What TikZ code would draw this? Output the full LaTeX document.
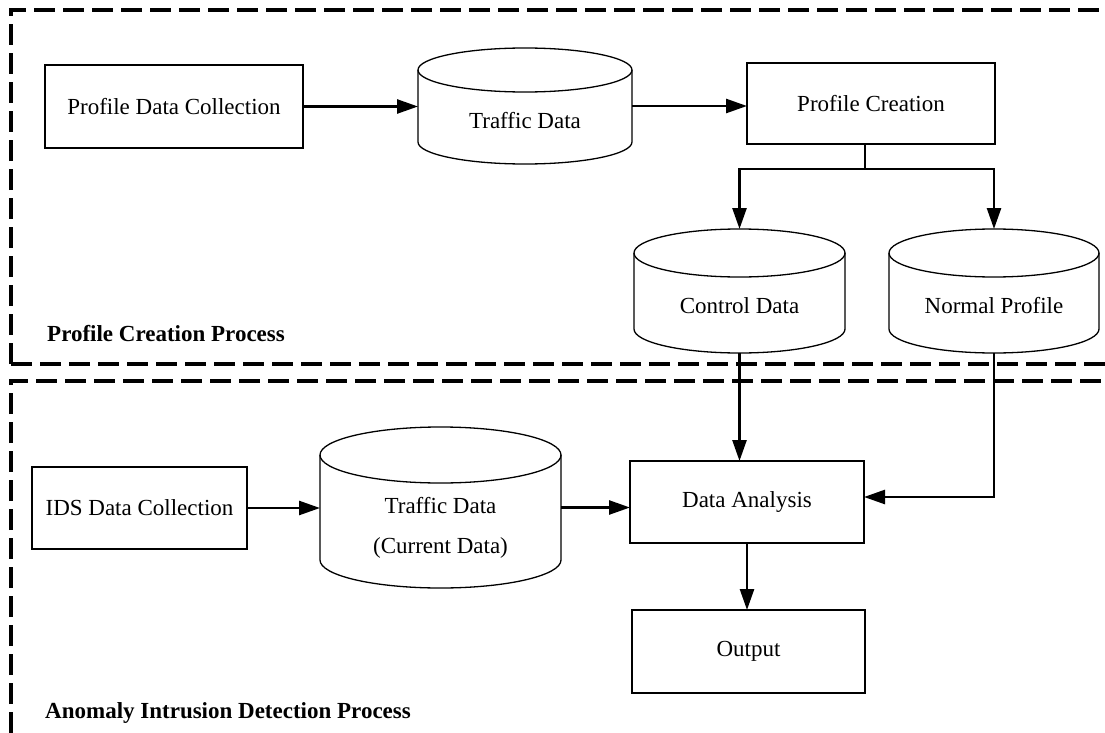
\documentclass[tikz,border=0pt]{standalone}
\usepackage{fontspec}
\setmainfont{Liberation Serif}
\usetikzlibrary{arrows.meta,calc}

% database drum drawn round an empty rectangular node: #1 name, #2 x radius, #3 y radius (pt)
\newcommand\drumshape[3]{%
  \draw[drumline] ($(#1.north)+(0pt,-#3pt)$) ellipse [x radius=#2pt, y radius=#3pt];
  \draw[drumline] ($(#1.north west)+(0pt,-#3pt)$) -- ($(#1.south west)+(0pt,#3pt)$)
     arc[start angle=180, end angle=360, x radius=#2pt, y radius=#3pt]
     -- ($(#1.north east)+(0pt,-#3pt)$);
}

\begin{document}
\begin{tikzpicture}[x=1pt,y=-1pt,
  every node/.style={font=\fontsize{23}{34}\selectfont},
  box/.style={draw, line width=1.3pt, inner sep=0pt, outer sep=0pt},
  drum/.style={inner sep=0pt, outer sep=0pt},
  drumline/.style={line width=1.3pt},
  drumtext/.style={yshift=-14.5pt},
  flow/.style={line width=2.6pt, -{Triangle[length=21pt,width=14pt]}},
  link/.style={line width=2.6pt},
  frame/.style={line width=3.1pt, dash pattern=on 21pt off 8pt},
  heading/.style={font=\bfseries\fontsize{23}{28}\selectfont, anchor=base west, inner sep=0pt}]
\useasboundingbox (0,0) rectangle (1105,733);

% process frames
\draw[frame] (11,364) -- (11,10) -- (1105,10);
\draw[frame] (11,364) -- (1105,364);
\draw[frame] (11,733) -- (11,381) -- (1105,381);

\node[heading] (hp) at (47,341) {Profile Creation Process};
\node[heading] (ha) at (45,718) {Anomaly Intrusion Detection Process};

% profile creation
\node[box, minimum width=258pt, minimum height=83pt] (pdc) at (174,106.5) {Profile Data Collection};
\node[drum, minimum width=214pt, minimum height=116pt,
      label={[drumtext]center:Traffic Data}] (td1) at (525,106) {};
\drumshape{td1}{107}{22}
\node[box, minimum width=248pt, minimum height=81pt] (pc) at (871,103.5) {Profile Creation};
\node[drum, minimum width=211pt, minimum height=124pt,
      label={[drumtext]center:Control Data}] (cd) at (739.5,291) {};
\drumshape{cd}{105.5}{24}
\node[drum, minimum width=210pt, minimum height=124pt,
      label={[drumtext]center:Normal Profile}] (np) at (994,291) {};
\drumshape{np}{105}{24}

% anomaly detection
\node[box, minimum width=215pt, minimum height=82pt] (ids) at (139.5,508) {IDS Data Collection};
\node[drum, minimum width=241pt, minimum height=161pt,
      label={[yshift=-19pt]center:\begin{tabular}{@{}c@{}}Traffic Data\\[6pt](Current Data)\end{tabular}}] (td2) at (440.5,507.5) {};
\drumshape{td2}{120.5}{28}
\node[box, minimum width=234pt, minimum height=82pt] (da) at (747,502) {Data Analysis};
\node[box, minimum width=233pt, minimum height=83pt] (out) at (748.5,651.5) {Output};

% connectors
\coordinate (split) at (865,169);
\coordinate (npturn) at (994,497);
\draw[flow] (pdc.east) -- (pdc.east -| td1.west);
\draw[flow] (td1.east) -- (td1.east -| pc.west);
\draw[link] (split |- pc.south) -- (split);
\draw[flow] (split) -| (cd.north);
\draw[flow] (split) -| (np.north);
\draw[flow] (cd.south) -- (cd.south |- da.north);
\draw[flow] (np.south) -- (npturn) -- (npturn -| da.east);
\draw[flow] (ids.east) -- (ids.east -| td2.west);
\draw[flow] (td2.east) -- (td2.east -| da.west);
\draw[flow] (da.south) -- (da.south |- out.north);
\end{tikzpicture}
\end{document}
